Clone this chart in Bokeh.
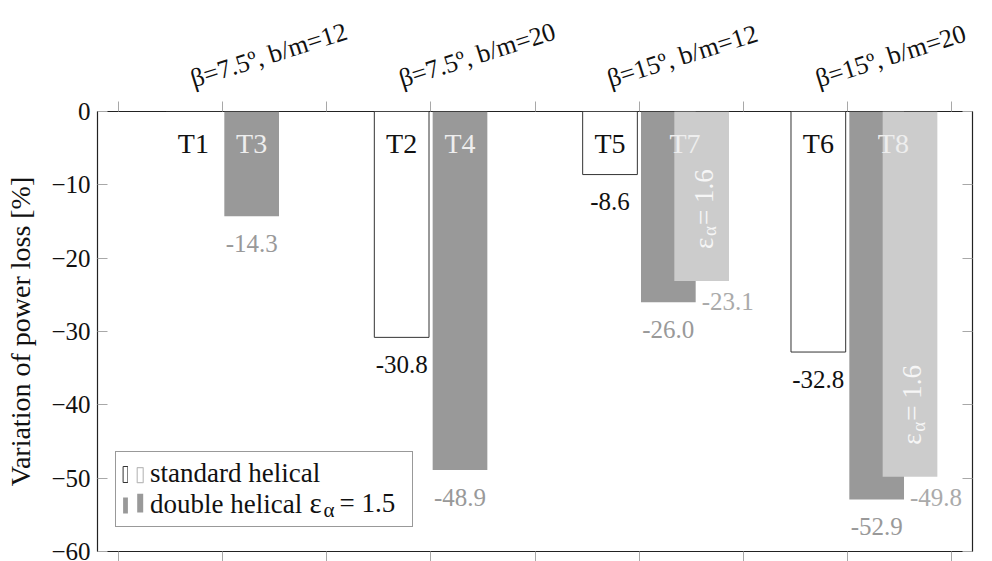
import math
from bokeh.plotting import figure
from bokeh.models import (ColumnDataSource, FixedTicker, LinearAxis, Label, Legend,
                          LegendItem, Range1d, BoxAnnotation)
from bokeh.core.properties import value
from bokeh.embed import file_html
from bokeh.resources import INLINE

# ---------------- data ----------------
groups = ["β=7.5º, b/m=12", "β=7.5º, b/m=20", "β=15º, b/m=12", "β=15º, b/m=20"]
std_names = ["T1", "T2", "T5", "T6"]
std_vals = [0.0, -30.8, -8.6, -32.8]            # standard helical
dh15_names = ["T3", "T4", "T7", "T8"]
dh15_vals = [-14.3, -48.9, -26.0, -52.9]        # double helical, eps_alpha = 1.5
dh16_groups = [2, 3]
dh16_vals = [-23.1, -49.8]                      # double helical, eps_alpha = 1.6
y_ticks = [0, -10, -20, -30, -40, -50, -60]

FONT = "Liberation Serif"
n = len(groups)
gx = [2 * i + 1 for i in range(n)]
BAR_W = 0.525
std_x = [g - 0.28 for g in gx]
dh15_x = [g + 0.28 for g in gx]
dh16_x = [gx[g] + 0.6 for g in dh16_groups]

X0, X1 = -0.2, 2 * n + 0.2
Y0, Y1 = -60, 0
FL, FT, FW, FH = 97, 110, 875, 441


def px_x(px):
    return X0 + (px - FL) * (X1 - X0) / FW


def px_y(py):
    return Y1 - (py - FT) * (Y1 - Y0) / FH


p = figure(width=992, height=561, x_range=Range1d(X0, X1), y_range=Range1d(Y0, Y1),
           output_backend="svg", toolbar_location=None,
           min_border_left=97, min_border_right=20, min_border_top=110, min_border_bottom=10,
           background_fill_color="white", border_fill_color="white")
p.grid.visible = False
p.outline_line_color = "#222222"
p.outline_line_width = 1.2

TICK = "#a8a8a8"
x_ticker = FixedTicker(ticks=list(range(2 * n + 1)))
y_ticker = FixedTicker(ticks=y_ticks)


def style_hidden(ax, tin, tout):
    ax.major_tick_in = tin
    ax.major_tick_out = tout
    ax.major_tick_line_color = TICK
    ax.minor_tick_line_color = None
    ax.axis_line_color = None
    ax.major_label_text_font_size = "0px"
    ax.major_label_text_color = None
    ax.major_label_standoff = 0


xb = p.xaxis[0]
xb.ticker = x_ticker
style_hidden(xb, 0, 10)

# top axis: tick marks at 0..8 (minor), rotated group labels at the major positions
lab_pos = [round(g - 0.3, 2) for g in gx]
top_ticker = FixedTicker(ticks=lab_pos, minor_ticks=list(range(2 * n + 1)))
xt = LinearAxis(ticker=top_ticker)
xt.major_tick_in = 0
xt.major_tick_out = 0
xt.minor_tick_in = 0
xt.minor_tick_out = 10
xt.minor_tick_line_color = TICK
xt.axis_line_color = None
xt.major_label_overrides = {lp: g for lp, g in zip(lab_pos, groups)}
xt.major_label_orientation = 0.305
xt.major_label_text_font = FONT
xt.major_label_text_font_size = "26px"
xt.major_label_text_color = "#111111"
xt.major_label_standoff = 22
p.add_layout(xt, "above")

yl = p.yaxis[0]
yl.ticker = y_ticker
yl.major_tick_in = 10
yl.major_tick_out = 0
yl.major_tick_line_color = TICK
yl.minor_tick_line_color = None
yl.axis_line_color = None
yl.major_label_text_font = FONT
yl.major_label_text_font_size = "25px"
yl.major_label_text_color = "#111111"
yl.major_label_standoff = 7
yl.axis_label = "Variation of power loss [%]"
yl.axis_label_text_font = FONT
yl.axis_label_text_font_size = "28px"
yl.axis_label_text_font_style = "normal"
yl.axis_label_text_color = "#111111"
yl.axis_label_standoff = 12

yr = LinearAxis(ticker=y_ticker)
style_hidden(yr, 10, 0)
p.add_layout(yr, "right")

# ---------------- bars ----------------
std_src = ColumnDataSource(dict(x=std_x, top=[0.0] * n, bottom=std_vals, name=std_names))
r_std = p.vbar(x="x", width=BAR_W, top="top", bottom="bottom", source=std_src,
               fill_color="white", line_color="#333333", line_width=1)

dh15_src = ColumnDataSource(dict(x=dh15_x, top=[0.0] * n, bottom=dh15_vals, name=dh15_names))
r_dh15 = p.vbar(x="x", width=BAR_W, top="top", bottom="bottom", source=dh15_src,
                fill_color="#999999", line_color=None)

dh16_src = ColumnDataSource(dict(x=dh16_x, top=[0.0] * len(dh16_x), bottom=dh16_vals))
r_dh16 = p.vbar(x="x", width=BAR_W, top="top", bottom="bottom", source=dh16_src,
                fill_color="#cccccc", line_color=None)

# ---------------- texts ----------------
common = dict(text_font=value(FONT), text_align="center", text_baseline="alphabetic")

# bar names
p.text(x=std_x, y=[0.0] * n, text=std_names, y_offset=32, text_font_size="28px",
       text_color="#111111", **common)
name_x = []
for i in range(n):
    if i in dh16_groups:
        name_x.append((dh15_x[i] + dh16_x[dh16_groups.index(i)]) / 2)
    else:
        name_x.append(dh15_x[i])
p.text(x=name_x, y=[0.0] * n, text=dh15_names, y_offset=32, text_font_size="28px",
       text_color="#eeeeee", **common)

# value labels
sv = [(x, v) for x, v in zip(std_x, std_vals) if v != 0]
p.text(x=[a for a, _ in sv], y=[b for _, b in sv], text=[f"{b:.1f}" for _, b in sv],
       y_offset=27, text_font_size="25px", text_color="#111111", **common)
p.text(x=dh15_x, y=dh15_vals, text=[f"{v:.1f}" for v in dh15_vals],
       y_offset=27, text_font_size="25px", text_color="#999999", **common)
p.text(x=[x + 0.25 for x in dh16_x], y=dh16_vals, text=[f"{v:.1f}" for v in dh16_vals],
       y_offset=21, text_font_size="25px", text_color="#aaaaaa", **common)

# vertical eps_alpha = 1.6 inside the light bars
k = len(dh16_x)
vcommon = dict(text_font=value(FONT), text_align="left", text_baseline="alphabetic",
               angle=math.pi / 2, text_color="#f6f6f6")
p.text(x=dh16_x, y=dh16_vals, text=["ε"] * k, x_offset=2, y_offset=-32,
       text_font_size="27px", **vcommon)
p.text(x=dh16_x, y=dh16_vals, text=["α"] * k, x_offset=8, y_offset=-45,
       text_font_size="19px", **vcommon)
p.text(x=dh16_x, y=dh16_vals, text=["= 1.6"] * k, x_offset=2, y_offset=-56,
       text_font_size="27px", **vcommon)

# ---------------- legend ----------------
legend = Legend(items=[LegendItem(label="standard helical", renderers=[r_std]),
                       LegendItem(label="double helical", renderers=[r_dh15])],
                location=(18, 24), padding=6, spacing=0, margin=0,
                glyph_width=6, glyph_height=20, label_standoff=22, label_width=256,
                label_text_font=FONT, label_text_font_size="27px",
                label_text_color="#111111",
                border_line_color="#333333", border_line_width=1,
                background_fill_color="white", background_fill_alpha=0)

# white backing for the legend box (the legend itself is transparent so that the
# extra icon halves and the subscripted epsilon drawn below stay visible)
p.add_layout(BoxAnnotation(left=px_x(115), right=px_x(411), top=px_y(455), bottom=px_y(526),
                           fill_color="white", fill_alpha=1, line_color=None))
p.add_layout(BoxAnnotation(left=px_x(136.7), right=px_x(142.7), top=px_y(467), bottom=px_y(482),
                           fill_color="white", fill_alpha=1, line_color="#222222", line_width=1.2))
p.add_layout(BoxAnnotation(left=px_x(136.7), right=px_x(142.7), top=px_y(493), bottom=px_y(512),
                           fill_color="#999999", fill_alpha=1, line_color=None))
p.add_layout(Label(x=px_x(309), y=px_y(502), text="ε", text_font=FONT, text_font_size="29px",
                   text_color="#111111", text_align="left", text_baseline="alphabetic"))
p.add_layout(Label(x=px_x(323), y=px_y(509), text="α", text_font=FONT, text_font_size="21px",
                   text_color="#111111", text_align="left", text_baseline="alphabetic"))
p.add_layout(Label(x=px_x(339), y=px_y(502), text="= 1.5", text_font=FONT, text_font_size="27px",
                   text_color="#111111", text_align="left", text_baseline="alphabetic"))
p.add_layout(legend)

open("out.html", "w").write(file_html(p, INLINE))
